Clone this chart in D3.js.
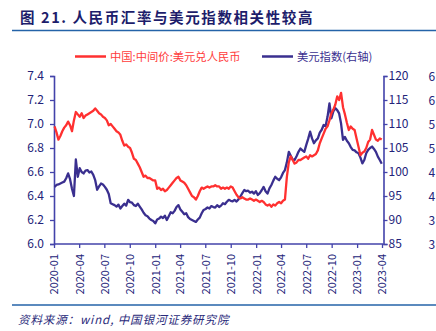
<!DOCTYPE html>
<html>
<head>
<meta charset="utf-8">
<script src="https://cdn.jsdelivr.net/npm/d3@7/dist/d3.min.js"></script>
<style>
  html, body { margin: 0; padding: 0; background: #fff; }
  svg { display: block; font-family: "Noto Sans CJK SC", "Noto Sans", sans-serif; }
</style>
</head>
<body>
<div id="chart"></div>
<script>
var W = 436, H = 331;

// weekly observations, first one on 2020-01-03
var startDate = new Date(2020, 0, 3);

// USD/CNY central parity (left axis)
var cnyFix = [
  6.98, 6.93, 6.87, 6.90, 6.94, 6.97, 6.99, 7.02, 6.99, 6.94,
  7.03, 7.10, 7.08, 7.06, 7.09, 7.05, 7.07, 7.08, 7.09, 7.10,
  7.11, 7.13, 7.11, 7.09, 7.08, 7.06, 7.05, 7.03, 6.99, 7.00,
  6.98, 6.96, 6.94, 6.93, 6.91, 6.86, 6.82, 6.83, 6.81, 6.80,
  6.76, 6.71, 6.70, 6.67, 6.64, 6.60, 6.56, 6.57, 6.55, 6.55,
  6.54, 6.53, 6.53, 6.46, 6.47, 6.45, 6.46, 6.44, 6.45, 6.47,
  6.49, 6.51, 6.53, 6.55, 6.56, 6.53, 6.52, 6.51, 6.49, 6.46,
  6.43, 6.40, 6.39, 6.37, 6.40, 6.44, 6.47, 6.46, 6.47, 6.48,
  6.47, 6.48, 6.48, 6.49, 6.48, 6.48, 6.46, 6.47, 6.46, 6.47,
  6.46, 6.48, 6.47, 6.44, 6.41, 6.39, 6.38, 6.39, 6.38, 6.37,
  6.37, 6.38, 6.37, 6.36, 6.37, 6.36, 6.35, 6.36, 6.35, 6.33,
  6.32, 6.33, 6.31, 6.33, 6.32, 6.34, 6.35, 6.34, 6.36, 6.37,
  6.56, 6.68, 6.73, 6.70, 6.67, 6.68, 6.70, 6.70, 6.71, 6.72,
  6.73, 6.71, 6.74, 6.73, 6.74, 6.75, 6.78, 6.84, 6.88, 6.92,
  6.96, 6.98, 7.03, 7.09, 7.12, 7.16, 7.23, 7.20, 7.26, 7.14,
  7.08, 7.01, 6.95, 6.98, 6.96, 6.95, 6.88, 6.81, 6.74, 6.76,
  6.77, 6.80, 6.85, 6.87, 6.95, 6.91, 6.87, 6.86, 6.88, 6.87
];

// US dollar index (right axis)
var dxy = [
  96.9, 97.3, 97.4, 97.6, 97.8, 98.0, 98.7, 99.7, 98.5, 96.5,
  95.0, 102.6, 99.0, 100.8, 100.0, 99.7, 100.3, 100.4, 99.9, 100.1,
  99.4, 98.3, 96.3, 97.0, 97.6, 97.4, 96.9, 96.3, 95.4, 93.5,
  93.3, 93.1, 92.8, 93.2, 92.4, 92.9, 93.4, 93.0, 94.2, 93.7,
  93.6, 93.1, 92.9, 93.4, 92.8, 92.2, 91.5, 91.0, 90.8, 90.3,
  90.0, 89.8, 89.3, 90.1, 90.3, 90.7, 90.4, 90.9, 90.0, 90.8,
  91.6, 91.4, 91.9, 92.7, 93.1, 92.2, 91.7, 91.2, 91.4, 90.6,
  90.2, 90.0, 89.8, 89.6, 90.1, 90.5, 91.4, 92.1, 92.3, 92.6,
  92.4, 92.9, 92.7, 92.6, 93.1, 92.7, 93.0, 93.5, 93.3, 93.8,
  94.2, 94.0, 93.9, 94.2, 93.85, 94.3, 94.9, 95.6, 96.25, 96.0,
  96.1, 95.7, 95.9, 95.5, 96.0, 95.2, 95.6, 96.2, 96.9, 96.0,
  95.5, 96.6, 97.3, 98.2, 99.0, 98.6, 98.3, 98.9, 99.8, 100.4,
  102.0, 104.2, 103.4, 102.6, 102.5, 103.3, 104.2, 104.9, 104.5, 104.2,
  105.6, 106.9, 108.4, 107.0, 106.0, 106.6, 107.0, 108.2, 108.8, 109.8,
  109.6, 111.5, 114.3, 111.2, 112.6, 113.3, 112.9, 112.2, 110.1, 106.7,
  107.3, 106.5, 106.0, 105.2, 104.6, 104.5, 104.1, 103.9, 103.0, 101.8,
  102.5, 103.9, 104.6, 105.0, 105.3, 104.8, 104.2, 103.2, 102.5, 101.7
];

var leftTicks = [6.0, 6.2, 6.4, 6.6, 6.8, 7.0, 7.2, 7.4];
var rightTicks = [85, 90, 95, 100, 105, 110, 115, 120];
// outer scale, only its leading digit fits on the page
var farRightTicks = ["3", "3", "4", "4", "5", "5", "6", "6"];
var xTickLabels = ["2020-01", "2020-04", "2020-07", "2020-10", "2021-01", "2021-04", "2021-07",
  "2021-10", "2022-01", "2022-04", "2022-07", "2022-10", "2023-01", "2023-04"];

var seriesNames = ["中国:中间价:美元兑人民币", "美元指数(右轴)"];

var RED = "#ff3030", NAVY = "#3a2f8f", AXIS = "#4343aa", TEXT = "#232379";

var plot = { left: 54, right: 383.5, top: 76, bottom: 244 };

var svg = d3.select("#chart").append("svg")
  .attr("width", W)
  .attr("height", H);

var parseMonth = d3.timeParse("%Y-%m");
var dates = cnyFix.map(function(d, i) { return d3.timeWeek.offset(startDate, i); });

var x = d3.scaleTime()
  .domain([parseMonth("2020-01"), parseMonth("2023-04")])
  .range([plot.left, plot.right - 1.5]);
var yL = d3.scaleLinear().domain([6.0, 7.4]).range([plot.bottom, plot.top]);
var yR = d3.scaleLinear().domain([85, 120]).range([plot.bottom, plot.top]);

// title + rule
svg.append("text")
  .attr("x", 20).attr("y", 23)
  .attr("fill", "#1d1d6b")
  .attr("font-size", 14.5)
  .attr("font-weight", 700)
  .attr("letter-spacing", 1.6)
  .text("图 21.  人民币汇率与美元指数相关性较高");
svg.append("line")
  .attr("x1", 12).attr("x2", W).attr("y1", 30.5).attr("y2", 30.5)
  .attr("stroke", "#2463a8").attr("stroke-width", 1.6);

// legend
var legend = svg.append("g").attr("font-size", 11.3);
[[75, 106, 110, RED], [262, 293, 297, NAVY]].forEach(function(p, i) {
  legend.append("line")
    .attr("x1", p[0]).attr("x2", p[1]).attr("y1", 56.5).attr("y2", 56.5)
    .attr("stroke", p[3]).attr("stroke-width", 2.5);
  legend.append("text")
    .attr("x", p[2]).attr("y", 60.5)
    .attr("fill", i === 0 ? "#ff3b3b" : NAVY)
    .text(seriesNames[i]);
});

// axes
function styleAxis(g) {
  g.select(".domain").attr("stroke", AXIS).attr("stroke-width", 1.6);
  g.selectAll(".tick line").attr("stroke", AXIS).attr("stroke-width", 1.3);
  g.selectAll(".tick text").attr("fill", TEXT);
}

svg.append("g")
  .attr("transform", "translate(" + plot.left + ",0)")
  .call(d3.axisLeft(yL).tickValues(leftTicks).tickFormat(d3.format(".1f")).tickSize(4).tickPadding(6))
  .attr("font-size", 12).attr("font-family", null)
  .call(styleAxis);

svg.append("g")
  .attr("transform", "translate(" + plot.right + ",0)")
  .call(d3.axisRight(yR).tickValues(rightTicks).tickSize(4).tickPadding(1))
  .attr("font-size", 12).attr("font-family", null)
  .call(styleAxis);

svg.append("g")
  .attr("font-size", 12)
  .selectAll("text")
  .data(farRightTicks)
  .join("text")
  .attr("x", 428.5)
  .attr("y", function(d, i) { return yR(rightTicks[i]) + 4.5; })
  .attr("fill", TEXT)
  .text(function(d) { return d; });

var xAxis = svg.append("g")
  .attr("transform", "translate(0," + plot.bottom + ")")
  .call(d3.axisBottom(x)
    .tickValues(xTickLabels.map(parseMonth))
    .tickFormat(d3.timeFormat("%Y-%m"))
    .tickSize(4).tickSizeOuter(0))
  .attr("font-size", 11).attr("font-family", null)
  .call(styleAxis);
xAxis.select(".domain").attr("d", "M" + plot.left + ",0H" + plot.right);
xAxis.selectAll(".tick text")
  .attr("transform", "rotate(-90)")
  .attr("text-anchor", "end")
  .attr("x", -10).attr("y", 0)
  .attr("dy", "0.35em");

// series
var redLine = d3.line()
  .x(function(d, i) { return x(dates[i]); })
  .y(function(d) { return yL(d); });
var navyLine = d3.line()
  .x(function(d, i) { return x(dates[i]); })
  .y(function(d) { return yR(d); });

svg.append("path")
  .datum(dxy)
  .attr("fill", "none")
  .attr("stroke", NAVY)
  .attr("stroke-width", 2.3)
  .attr("stroke-linejoin", "round")
  .attr("d", navyLine);

svg.append("path")
  .datum(cnyFix)
  .attr("fill", "none")
  .attr("stroke", RED)
  .attr("stroke-width", 2.3)
  .attr("stroke-linejoin", "round")
  .attr("d", redLine);

// source footer
svg.append("line")
  .attr("x1", 12).attr("x2", W).attr("y1", 305).attr("y2", 305)
  .attr("stroke", "#2463a8").attr("stroke-width", 1.4);
svg.append("text")
  .attr("x", 18).attr("y", 324)
  .attr("fill", "#2a2a7a")
  .attr("font-size", 11.5)
  .attr("font-style", "italic")
  .attr("letter-spacing", 0.9)
  .text("资料来源：wind, 中国银河证券研究院");
</script>
</body>
</html>
